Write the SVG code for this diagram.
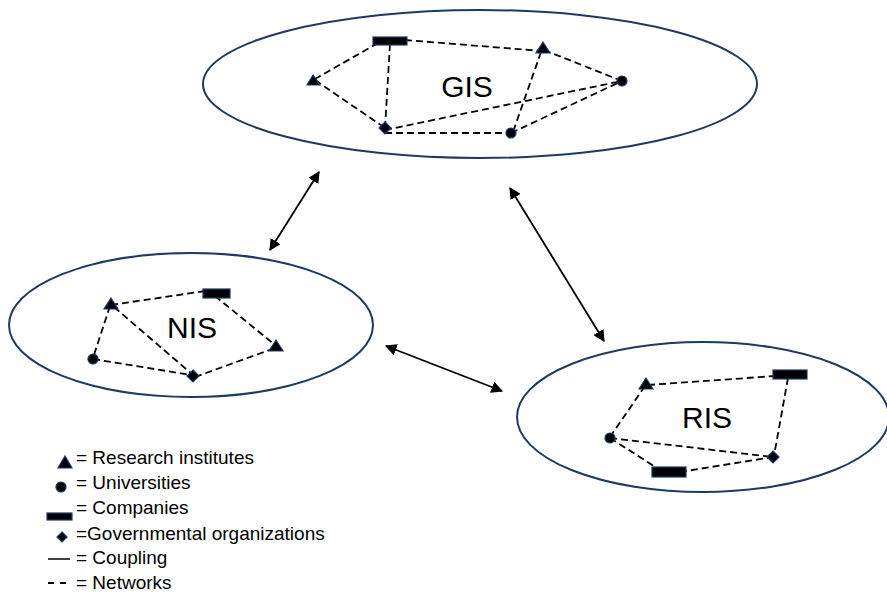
<svg xmlns="http://www.w3.org/2000/svg" width="887" height="595" viewBox="0 0 887 595">
<defs>
<style>
.sys{fill:none;stroke:#1f3864;stroke-width:2}
.net{stroke:#000;stroke-width:1.8;stroke-dasharray:7 4;fill:none}
.cpl{stroke:#000;stroke-width:1.8;fill:none}
.sym{fill:#000;stroke:#1f3864;stroke-width:1.2}
.lbl{font-family:"Liberation Sans",Arial,sans-serif;font-size:30px;fill:#000;text-anchor:middle}
.leg{font-family:"Liberation Sans",Arial,sans-serif;font-size:19px;fill:#000}
</style>
<marker id="ah" viewBox="0 0 10 10" refX="9" refY="5" markerWidth="6.5" markerHeight="6.5" orient="auto-start-reverse" markerUnits="strokeWidth">
<path d="M0,0 L10,5 L0,10 z" fill="#000"/>
</marker>
</defs>

<g id="connectors">
<line class="cpl" x1="319" y1="172" x2="270" y2="250" marker-start="url(#ah)" marker-end="url(#ah)"/>
<line class="cpl" x1="510" y1="188" x2="604" y2="341" marker-start="url(#ah)" marker-end="url(#ah)"/>
<line class="cpl" x1="386" y1="346" x2="502" y2="391" marker-start="url(#ah)" marker-end="url(#ah)"/>
</g>

<g id="GIS">
<ellipse class="sys" cx="480" cy="84" rx="277" ry="74"/>
<g class="net">
<line x1="378" y1="43" x2="315" y2="79"/>
<line x1="315" y1="80" x2="385" y2="128"/>
<line x1="390" y1="44" x2="385" y2="128"/>
<line x1="405" y1="40" x2="542" y2="51"/>
<line x1="544" y1="50" x2="622" y2="81"/>
<line x1="541" y1="52" x2="513" y2="132"/>
<line x1="385" y1="130" x2="622" y2="81"/>
<line x1="385" y1="133" x2="511" y2="133"/>
<line x1="511" y1="133" x2="622" y2="81"/>
</g>
<rect class="sym" x="373" y="37" width="34" height="8"/>
<polygon class="sym" points="313,75 307,85 320,85"/>
<polygon class="sym" points="543,42 536,53 550,53"/>
<circle class="sym" cx="622" cy="81" r="5"/>
<polygon class="sym" points="385,122 391,128 385,134 379,128"/>
<circle class="sym" cx="511" cy="133" r="5"/>
<text class="lbl" x="467" y="97">GIS</text>
</g>

<g id="NIS">
<ellipse class="sys" cx="191" cy="325" rx="182" ry="72"/>
<g class="net">
<line x1="111" y1="305" x2="205" y2="291"/>
<line x1="110" y1="306" x2="93" y2="358"/>
<line x1="114" y1="307" x2="193" y2="375"/>
<line x1="215" y1="296" x2="275" y2="345"/>
<line x1="93" y1="359" x2="191" y2="375"/>
<line x1="195" y1="377" x2="275" y2="348"/>
</g>
<polygon class="sym" points="111,298 104,309 118,309"/>
<rect class="sym" x="203" y="289" width="27" height="9"/>
<polygon class="sym" points="276,340 269,351 283,351"/>
<circle class="sym" cx="93" cy="359" r="5"/>
<polygon class="sym" points="193,370 199,376 193,382 187,376"/>
<text class="lbl" x="192" y="338">NIS</text>
</g>

<g id="RIS">
<ellipse class="sys" cx="703" cy="417" rx="186" ry="75"/>
<g class="net">
<line x1="648" y1="385" x2="775" y2="376"/>
<line x1="645" y1="386" x2="610" y2="437"/>
<line x1="788" y1="378" x2="774" y2="456"/>
<line x1="610" y1="438" x2="773" y2="457"/>
<line x1="610" y1="438" x2="657" y2="468"/>
<line x1="680" y1="472" x2="773" y2="457"/>
</g>
<polygon class="sym" points="646,378 639,389 653,389"/>
<rect class="sym" x="773" y="370" width="34" height="9"/>
<circle class="sym" cx="610" cy="438" r="5"/>
<polygon class="sym" points="773,451 779,457 773,463 767,457"/>
<rect class="sym" x="652" y="467" width="34" height="10"/>
<text class="lbl" x="707" y="428">RIS</text>
</g>

<g id="legend">
<polygon class="sym" points="65,456 58,468 72,468"/>
<text class="leg" x="76" y="464">= Research institutes</text>
<circle class="sym" cx="61" cy="487" r="5"/>
<text class="leg" x="76" y="489">= Universities</text>
<rect class="sym" x="47" y="513" width="25" height="7"/>
<text class="leg" x="76" y="514">= Companies</text>
<polygon class="sym" points="62,532 67,537 62,542 57,537"/>
<text class="leg" x="76" y="540">=Governmental organizations</text>
<line class="cpl" x1="48" y1="559" x2="70" y2="559" style="stroke-width:1.5"/>
<text class="leg" x="76" y="564">= Coupling</text>
<line class="net" x1="48" y1="583" x2="70" y2="583" style="stroke-dasharray:6 6"/>
<text class="leg" x="76" y="589">= Networks</text>
</g>
</svg>
